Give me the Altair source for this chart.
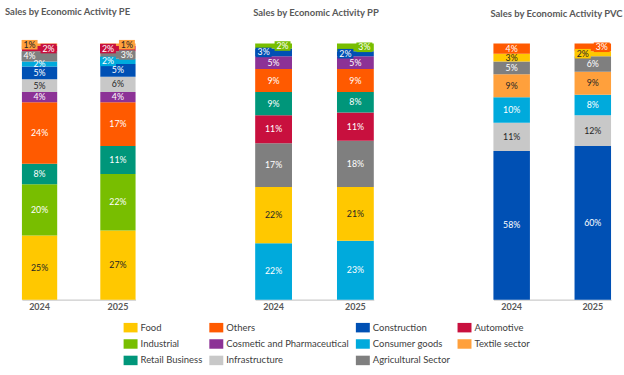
import altair as alt
import pandas as pd

# ---- data -------------------------------------------------------------
years = ["2024", "2025"]

categories = ["Food", "Others", "Construction", "Automotive",
              "Industrial", "Cosmetic and Pharmaceutical", "Consumer goods", "Textile sector",
              "Retail Business", "Infrastructure", "Agricultural Sector"]
colors = ["#FFC800", "#FF5A00", "#0050B4", "#C8103E",
          "#78BE00", "#8C3296", "#00AADC", "#FFA03C",
          "#00967A", "#C8C8C8", "#7F7F7F"]
dark_label_cats = ["Food", "Textile sector", "Infrastructure"]

pe_stack = ["Food", "Industrial", "Retail Business", "Others", "Cosmetic and Pharmaceutical",
            "Infrastructure", "Construction", "Consumer goods", "Agricultural Sector",
            "Automotive", "Textile sector"]
pe_2024 = [25, 20, 8, 24, 4, 5, 5, 2, 4, 2, 1]
pe_2025 = [27, 22, 11, 17, 4, 6, 5, 2, 3, 2, 1]
pe_2024_pos = ["c", "c", "c", "c", "c", "c", "c", "c", "l", "r", "l"]
pe_2025_pos = ["c", "c", "c", "c", "c", "c", "c", "l", "r", "l", "r"]

pp_stack = ["Consumer goods", "Food", "Agricultural Sector", "Automotive", "Retail Business",
            "Others", "Cosmetic and Pharmaceutical", "Construction", "Industrial"]
pp_2024 = [22, 22, 17, 11, 9, 9, 5, 3, 2]
pp_2025 = [23, 21, 18, 11, 8, 9, 5, 2, 3]
pp_2024_pos = ["c", "c", "c", "c", "c", "c", "c", "l", "r"]
pp_2025_pos = ["c", "c", "c", "c", "c", "c", "c", "l", "r"]

pvc_stack = ["Construction", "Infrastructure", "Consumer goods", "Textile sector",
             "Agricultural Sector", "Food", "Others"]
pvc_2024 = [58, 11, 10, 9, 5, 3, 4]
pvc_2025 = [60, 12, 8, 9, 6, 2, 3]
pvc_2024_pos = ["c", "c", "c", "c", "c", "c", "c"]
pvc_2025_pos = ["c", "c", "c", "c", "c", "l", "r"]

titles = ["Sales by Economic Activity PE", "Sales by Economic Activity PP",
          "Sales by Economic Activity PVC"]

# ---- style ------------------------------------------------------------
FONT = "Lato"
GREY_TXT = "#595959"
BOX_PATH = "M-1,-0.6H1V0.6H-1Z"
LEG_PATH = "M-1,-0.68H1V0.68H-1Z"

color_enc = alt.Color("cat:N", scale=alt.Scale(domain=categories, range=colors),
                      legend=alt.Legend(title=None))


def panel(title, stack, v24, v25, p24, p25, width, title_dx):
    rows = []
    for yr, vals, poss in ((years[0], v24, p24), (years[1], v25, p25)):
        for i, (c, v, p) in enumerate(zip(stack, vals, poss)):
            rows.append({"year": yr, "cat": c, "value": v, "ord": i, "pos": p,
                         "lab": f"{v}%",
                         "tc": "#262626" if c in dark_label_cats else "#FFFFFF"})
    df = pd.DataFrame(rows)
    base = alt.Chart(df).transform_stack(
        stack="value", groupby=["year"], as_=["y0", "y1"],
        sort=[alt.SortField("ord", order="ascending")]
    ).transform_calculate(mid="(datum.y0 + datum.y1) / 2")

    x = alt.X("year:N", sort=years,
              scale=alt.Scale(paddingInner=0.55, paddingOuter=0),
              axis=alt.Axis(title=None, labelAngle=0, ticks=False, labelPadding=3,
                            labelFont=FONT, labelFontWeight="bold", labelFontSize=9,
                            labelColor=GREY_TXT, domainColor="#BFBFBF", grid=False))
    yscale = alt.Scale(domain=[0, 100], nice=False, zero=True)

    bars = base.mark_bar(stroke=None, strokeWidth=0).encode(
        x=x, y=alt.Y("y0:Q", scale=yscale, axis=None), y2="y1:Q", color=color_enc)

    layers = [bars]
    offs = {"l": -10, "c": 0, "r": 9}
    for p in ("l", "r"):
        layers.append(base.transform_filter(f"datum.pos == '{p}'").mark_point(
            shape=BOX_PATH, size=256, filled=True, opacity=1, strokeWidth=0,
            xOffset=offs[p]).encode(x=x, y=alt.Y("mid:Q", scale=yscale, axis=None),
                                    color=color_enc))
    for p in ("l", "c", "r"):
        layers.append(base.transform_filter(f"datum.pos == '{p}'").mark_text(
            font=FONT, fontSize=8.8, dx=offs[p], baseline="middle", align="center").encode(
            x=x, y=alt.Y("mid:Q", scale=yscale, axis=None), text="lab:N",
            color=alt.Color("tc:N", scale=None)))

    return alt.layer(*layers).properties(
        width=width, height=257,
        title=alt.TitleParams(title, anchor="start", dx=title_dx, offset=24,
                              frame="group", font=FONT, fontSize=9.5,
                              fontWeight="bold", color=GREY_TXT))


c1 = panel(titles[0], pe_stack, pe_2024, pe_2025, pe_2024_pos, pe_2025_pos, 114, -17)
c2 = panel(titles[1], pp_stack, pp_2024, pp_2025, pp_2024_pos, pp_2025_pos, 119, -2)
c3 = panel(titles[2], pvc_stack, pvc_2024, pvc_2025, pvc_2024_pos, pvc_2025_pos, 118, -3)

chart = alt.hconcat(c1, c2, c3, spacing=120, bounds="flush").properties(
    padding={"left": 5, "top": 5, "right": 0, "bottom": 0}
).configure_view(stroke=None).configure_legend(
    orient="none", legendX=102, legendY=278, columns=4, direction="horizontal",
    symbolType=LEG_PATH, symbolSize=196, symbolStrokeWidth=0, symbolOpacity=1,
    labelFont=FONT, labelFontSize=9.5, labelColor="#404040", labelOffset=3,
    rowPadding=4.5, columnPadding=7, gridAlign="each", labelLimit=300
)

chart.save("out.html", embed_options={"renderer": "svg", "actions": False})
